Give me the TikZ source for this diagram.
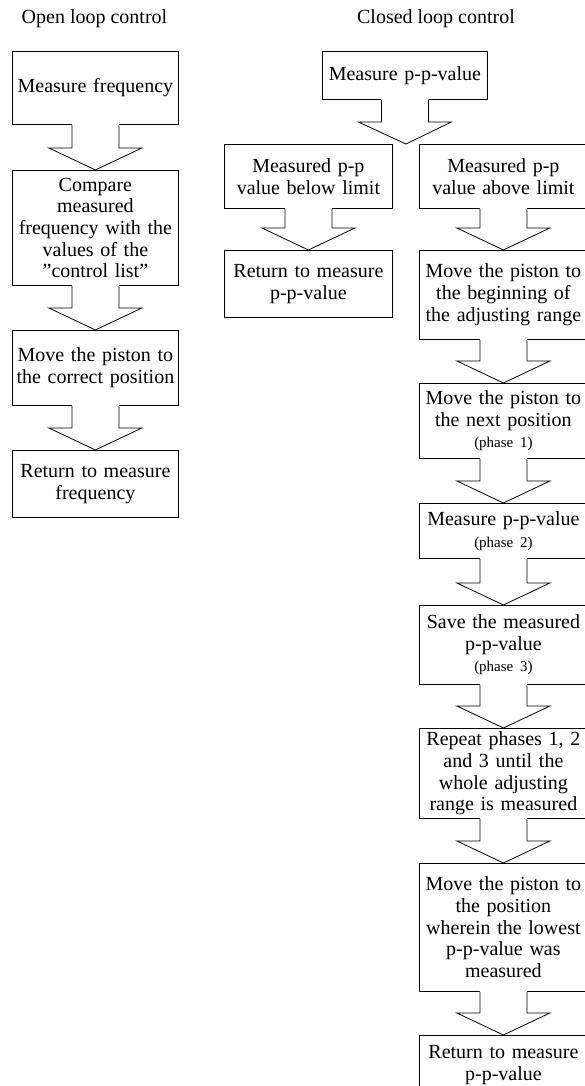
\documentclass[tikz,border=0pt]{standalone}
\usepackage{fontspec}
\setmainfont{Liberation Serif}
\usetikzlibrary{calc}
\tikzset{
  box/.style={draw, line width=0.8pt, inner sep=0pt, align=center, anchor=north west,
    font=\fontsize{20}{21.7}\selectfont},
  title/.style={inner sep=0pt, anchor=base, font=\fontsize{20}{21.7}\selectfont},
  conn/.style={draw, line width=0.8pt},
}
\newcommand\phasefont{\fontsize{15}{18}\selectfont}
\newcommand\blockarr[2]{%
  \fill[white] let \p1=#1, \p2=#2 in
    (\x1-23.5pt,\y1+1.5pt) -- (\x1-23.5pt,\y2+22pt) -- (\x1-46.5pt,\y2+22pt) -- (\x2,\y2)
    -- (\x1+46.5pt,\y2+22pt) -- (\x1+23.5pt,\y2+22pt) -- (\x1+23.5pt,\y1+1.5pt) -- cycle;
  \draw[conn] let \p1=#1, \p2=#2 in
    (\x1-23.5pt,\y1) -- (\x1-23.5pt,\y2+22pt) -- (\x1-46.5pt,\y2+22pt) -- (\x2,\y2)
    -- (\x1+46.5pt,\y2+22pt) -- (\x1+23.5pt,\y2+22pt) -- (\x1+23.5pt,\y1);
}
\begin{document}
\begin{tikzpicture}[x=1pt,y=-1pt]
\useasboundingbox (0,0) rectangle (585,1086);
\clip (0,0) rectangle (585,1086);
% titles
\node[title] (t1) at (94.5,24) {Open loop control};
\node[title] (t2) at (436,24) {Closed loop control};
% open loop
\node[box, text width=166pt, minimum height=73pt] (o1) at (12,51) {Measure frequency};
\node[box, text width=166pt, minimum height=115pt] (o2) at (12,170) {Compare\\measured\\frequency with the\\values of the\\”control list”};
\node[box, text width=166pt, minimum height=75pt] (o3) at (12,330) {Move the piston to\\the correct position};
\node[box, text width=166pt, minimum height=67pt] (o4) at (12,450) {Return to measure\\frequency};
% closed loop
\node[box, text width=165pt, minimum height=48pt] (c1) at (322,51) {Measure p-p-value};
\node[box, text width=168pt, minimum height=64pt] (c2) at (224,144) {Measured p-p\\value below limit};
\node[box, text width=168pt, minimum height=64pt] (c3) at (419,144) {Measured p-p\\value above limit};
\node[box, text width=168pt, minimum height=67pt] (c4) at (224,250) {Return to measure\\p-p-value};
\node[box, text width=168pt, minimum height=89pt] (c5) at (419,250) {Move the piston to\\the beginning of\\the adjusting range};
\node[box, text width=168pt, minimum height=75pt] (c6) at (419,383) {Move the piston to\\the next position\\{\phasefont (phase 1)}};
\node[box, text width=168pt, minimum height=55pt] (c7) at (419,503) {Measure p-p-value\\{\phasefont (phase 2)}};
\node[box, text width=168pt, minimum height=79pt] (c8) at (419,605) {Save the measured\\p-p-value\\{\phasefont (phase 3)}};
\node[box, text width=168pt, minimum height=90pt] (c9) at (419,728) {Repeat phases 1, 2\\and 3 until the\\whole adjusting\\range is measured};
\node[box, text width=168pt, minimum height=128pt] (c10) at (419,863) {Move the piston to\\the position\\wherein the lowest\\p-p-value was\\measured};
\node[box, text width=168pt, minimum height=59pt] (c11) at (419,1035) {Return to measure\\p-p-value};
\coordinate (split) at ($(c2.north east)!0.5!(c3.north west)$);
% block arrows
\blockarr{(o1.south)}{(o2.north)}
\blockarr{(o2.south)}{(o3.north)}
\blockarr{(o3.south)}{(o4.north)}
\blockarr{(c1.south)}{(split)}
\blockarr{(c2.south)}{(c4.north)}
\blockarr{(c3.south)}{(c5.north)}
\blockarr{(c5.south)}{(c6.north)}
\blockarr{(c6.south)}{(c7.north)}
\blockarr{(c7.south)}{(c8.north)}
\blockarr{(c8.south)}{(c9.north)}
\blockarr{(c9.south)}{(c10.north)}
\blockarr{(c10.south)}{(c11.north)}
\end{tikzpicture}
\end{document}
